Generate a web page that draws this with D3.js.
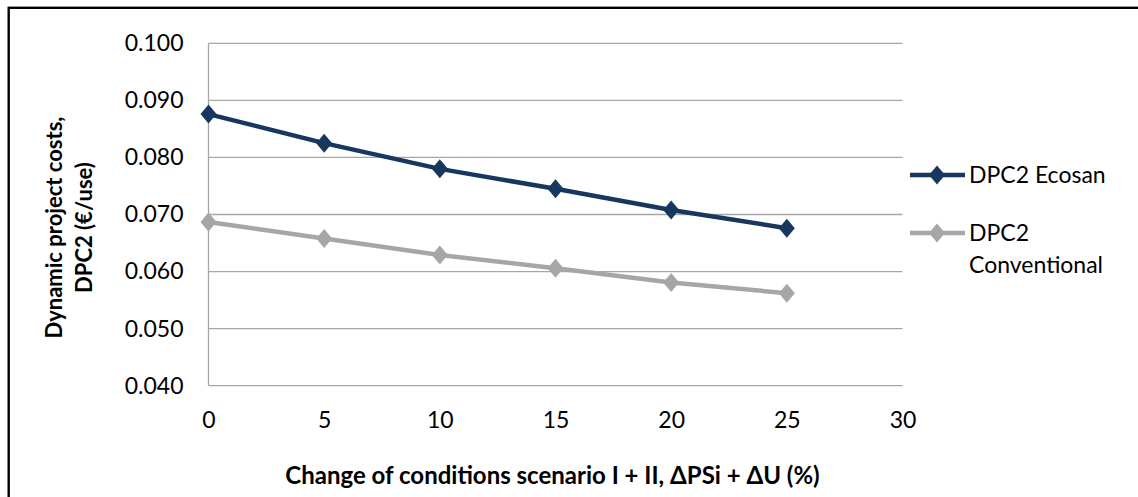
<!DOCTYPE html>
<html>
<head>
<meta charset="utf-8">
<script src="https://cdn.jsdelivr.net/npm/d3@7"></script>
<style>
  html, body { margin: 0; padding: 0; background: #fff; }
  svg { display: block; }
  text { font-family: Lato, "Open Sans", sans-serif; fill: #000; }
</style>
</head>
<body>
<svg id="chart" width="1138" height="497"></svg>
<script>
// Change of conditions (%) on the horizontal axis
const changePct = [0, 5, 10, 15, 20, 25];
// Dynamic project costs DPC2 (€/use)
const dpcEcosan = [0.0876, 0.0825, 0.0780, 0.0745, 0.0708, 0.0676];
const dpcConventional = [0.0687, 0.0658, 0.0629, 0.0606, 0.0581, 0.0562];
const xTicks = [0, 5, 10, 15, 20, 25, 30];
const yTicks = [0.040, 0.050, 0.060, 0.070, 0.080, 0.090, 0.100];
const seriesNames = ["DPC2 Ecosan", "DPC2 Conventional"];

const svg = d3.select("#chart");
const tickFont = "23px";

// Outer chart frame (only the top and left edges fall inside the view)
svg.append("rect")
  .attr("x", 8.7).attr("y", 7.8)
  .attr("width", 2000).attr("height", 2000)
  .attr("fill", "none").attr("stroke", "#000").attr("stroke-width", 2.4);

const x = d3.scaleLinear().domain([0, 30]).range([208.5, 902.5]);
const y = d3.scaleLinear().domain([0.040, 0.100]).range([385.7, 43.3]);

// Horizontal gridlines
svg.append("g")
  .selectAll("line")
  .data(yTicks)
  .join("line")
  .attr("x1", x(0)).attr("x2", x(30))
  .attr("y1", d => y(d)).attr("y2", d => y(d))
  .attr("stroke", "#a6a6a6").attr("stroke-width", 1.3);

// Vertical axis line
svg.append("line")
  .attr("x1", x(0)).attr("x2", x(0))
  .attr("y1", y(0.100)).attr("y2", y(0.040))
  .attr("stroke", "#a6a6a6").attr("stroke-width", 1.3);

// Y tick labels
const yAxis = d3.axisLeft(y).tickValues(yTicks).tickFormat(d3.format(".3f")).tickSize(0).tickPadding(25);
const gy = svg.append("g").attr("transform", `translate(${x(0)},0)`).call(yAxis);
gy.select(".domain").remove();
gy.selectAll("text").style("font-size", tickFont).style("font-family", "Lato, 'Open Sans', sans-serif").attr("fill", "#000");

// X tick labels
const xAxis = d3.axisBottom(x).tickValues(xTicks).tickFormat(d3.format("d")).tickSize(0).tickPadding(26);
const gx = svg.append("g").attr("transform", `translate(0,${y(0.040)})`).call(xAxis);
gx.select(".domain").remove();
gx.selectAll("text").style("font-size", tickFont).style("font-family", "Lato, 'Open Sans', sans-serif").attr("fill", "#000");

// Series
const series = [
  { name: seriesNames[0], values: dpcEcosan, color: "#17375e" },
  { name: seriesNames[1], values: dpcConventional, color: "#a6a6a6" }
];

const line = d3.line().x((d, i) => x(changePct[i])).y(d => y(d));
const diamond = "M0,-9.5L8,0L0,9.5L-8,0Z";

// Draw the grey series first so the blue one sits on top
[series[1], series[0]].forEach(s => {
  svg.append("path")
    .datum(s.values)
    .attr("d", line)
    .attr("fill", "none")
    .attr("stroke", s.color)
    .attr("stroke-width", 4.5)
    .attr("stroke-linejoin", "round");
  svg.append("g")
    .selectAll("path")
    .data(s.values)
    .join("path")
    .attr("d", diamond)
    .attr("transform", (d, i) => `translate(${x(changePct[i])},${y(d)})`)
    .attr("fill", s.color);
});

// Legend
const legend = [
  { s: series[0], y: 175, lines: ["DPC2 Ecosan"] },
  { s: series[1], y: 233, lines: ["DPC2", "Conventional"] }
];
legend.forEach(l => {
  svg.append("line")
    .attr("x1", 910).attr("x2", 965)
    .attr("y1", l.y).attr("y2", l.y)
    .attr("stroke", l.s.color).attr("stroke-width", 4.5);
  svg.append("path")
    .attr("d", diamond)
    .attr("transform", `translate(937,${l.y})`)
    .attr("fill", l.s.color);
  const t = svg.append("text")
    .attr("x", 969).attr("y", l.y + 8)
    .style("font-size", tickFont);
  l.lines.forEach((ln, i) => {
    t.append("tspan").attr("x", 969).attr("dy", i === 0 ? 0 : 32).text(ln);
  });
});

// Axis titles
svg.append("text")
  .attr("x", (280 + 825) / 2).attr("y", 484)
  .attr("text-anchor", "middle")
  .style("font-size", "24px").style("font-weight", "bold")
  .text("Change of conditions scenario I + II, \u0394PSi + \u0394U (%)");

const yt = svg.append("text")
  .attr("transform", "rotate(-90)")
  .attr("text-anchor", "middle")
  .style("font-size", "22px").style("font-weight", "bold");
yt.append("tspan").attr("x", -227.5).attr("y", 62).text("Dynamic project costs,");
yt.append("tspan").attr("x", -227.5).attr("y", 92).text("DPC2 (\u20ac/use)");
</script>
</body>
</html>
